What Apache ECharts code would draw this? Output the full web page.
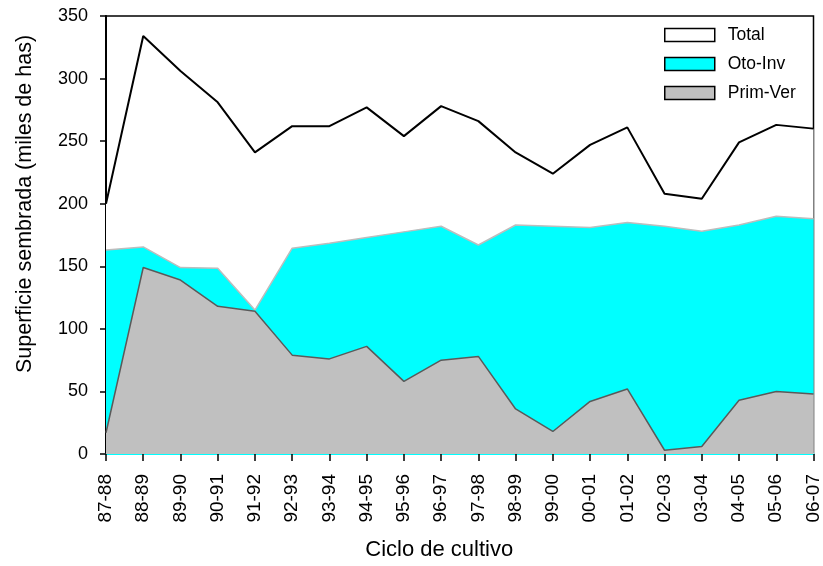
<!DOCTYPE html>
<html>
<head>
<meta charset="utf-8">
<script src="https://cdn.jsdelivr.net/npm/echarts@6/dist/echarts.min.js"></script>
<style>
  html, body { margin: 0; padding: 0; background: #fff; }
  #chart { width: 823px; height: 566px; }
</style>
</head>
<body>
<div id="chart"></div>
<script>
const categories = ['87-88','88-89','89-90','90-91','91-92','92-93','93-94','94-95','95-96','96-97','97-98','98-99','99-00','00-01','01-02','02-03','03-04','04-05','05-06','06-07'];
const totalValues = [200, 334, 306, 281, 241, 262, 262, 277, 254, 278, 266, 241, 224, 247, 261, 208, 204, 249, 263, 260];
const primVerValues = [17, 149, 139, 118, 114, 79, 76, 86, 58, 75, 78, 36, 18, 42, 52, 3, 6, 43, 50, 48];
const otoInvValues = [146, 16.5, 10, 30.5, 1, 85.5, 92.5, 87, 119.5, 107, 89, 147, 164, 139, 133, 179, 172, 140, 140, 140];
const yTicks = [0, 50, 100, 150, 200, 250, 300, 350];

const chart = echarts.init(document.getElementById('chart'), null, { renderer: 'canvas' });
const regular = '"Liberation Sans", Arial, sans-serif';

chart.setOption({
  animation: false,
  backgroundColor: '#fff',
  grid: { left: 106, right: 9, top: 16, bottom: 109, show: true, borderColor: '#000', borderWidth: 1.5, backgroundColor: 'transparent' },
  legend: {
    orient: 'vertical',
    left: 664,
    top: 26,
    padding: 0,
    itemWidth: 50,
    itemHeight: 13,
    itemGap: 11,
    textStyle: { fontFamily: regular, fontSize: 17.5, color: '#000', padding: [0, 0, 0, 8] },
    data: [
      { name: 'Total', icon: 'rect', itemStyle: { color: '#ffffff', borderColor: '#000', borderWidth: 1.5 } },
      { name: 'Oto-Inv', icon: 'rect', itemStyle: { color: '#00ffff', borderColor: '#000', borderWidth: 1.5 } },
      { name: 'Prim-Ver', icon: 'rect', itemStyle: { color: '#c0c0c0', borderColor: '#000', borderWidth: 1.5 } }
    ]
  },
  xAxis: {
    type: 'category',
    data: categories,
    boundaryGap: false,
    name: 'Ciclo de cultivo',
    nameLocation: 'middle',
    nameGap: 85,
    nameTextStyle: { fontFamily: regular, fontSize: 22, color: '#000', padding: [0, 41, 0, 0] },
    axisLine: { show: true, lineStyle: { color: '#00ffff', width: 2 } },
    axisTick: { show: true, alignWithLabel: true, length: 7, lineStyle: { color: '#000', width: 1.5 } },
    axisLabel: { rotate: 90, interval: 0, margin: 20, fontFamily: regular, fontSize: 19, color: '#000' },
    splitLine: { show: false }
  },
  yAxis: {
    type: 'value',
    min: yTicks[0],
    max: yTicks[yTicks.length - 1],
    interval: yTicks[1] - yTicks[0],
    name: 'Superficie sembrada (miles de has)',
    nameLocation: 'middle',
    nameGap: 70,
    nameTextStyle: { fontFamily: regular, fontSize: 21.5, color: '#000', padding: [0, 0, 0, 62] },
    axisLine: { show: true, lineStyle: { color: '#000', width: 2 } },
    axisTick: { show: true, length: 6, lineStyle: { color: '#000', width: 1.5 } },
    axisLabel: { margin: 18, fontFamily: regular, fontSize: 18, color: '#000' },
    splitLine: { show: false }
  },
  series: [
    {
      name: 'Total',
      type: 'line',
      data: totalValues,
      symbol: 'none',
      z: 1,
      lineStyle: { color: '#000', width: 2 },
      itemStyle: { color: '#ffffff' },
      areaStyle: { color: '#ffffff', opacity: 1 }
    },
    {
      name: 'Prim-Ver',
      type: 'line',
      stack: 'area',
      data: primVerValues,
      symbol: 'none',
      z: 4,
      lineStyle: { color: '#5a5a5a', width: 1.5 },
      itemStyle: { color: '#c0c0c0' },
      areaStyle: { color: '#c0c0c0', opacity: 1 }
    },
    {
      name: 'Oto-Inv',
      type: 'line',
      stack: 'area',
      data: otoInvValues,
      symbol: 'none',
      z: 3,
      lineStyle: { color: '#bdbdbd', width: 1.5 },
      itemStyle: { color: '#00ffff' },
      areaStyle: { color: '#00ffff', opacity: 1 }
    }
  ]
});
</script>
</body>
</html>
